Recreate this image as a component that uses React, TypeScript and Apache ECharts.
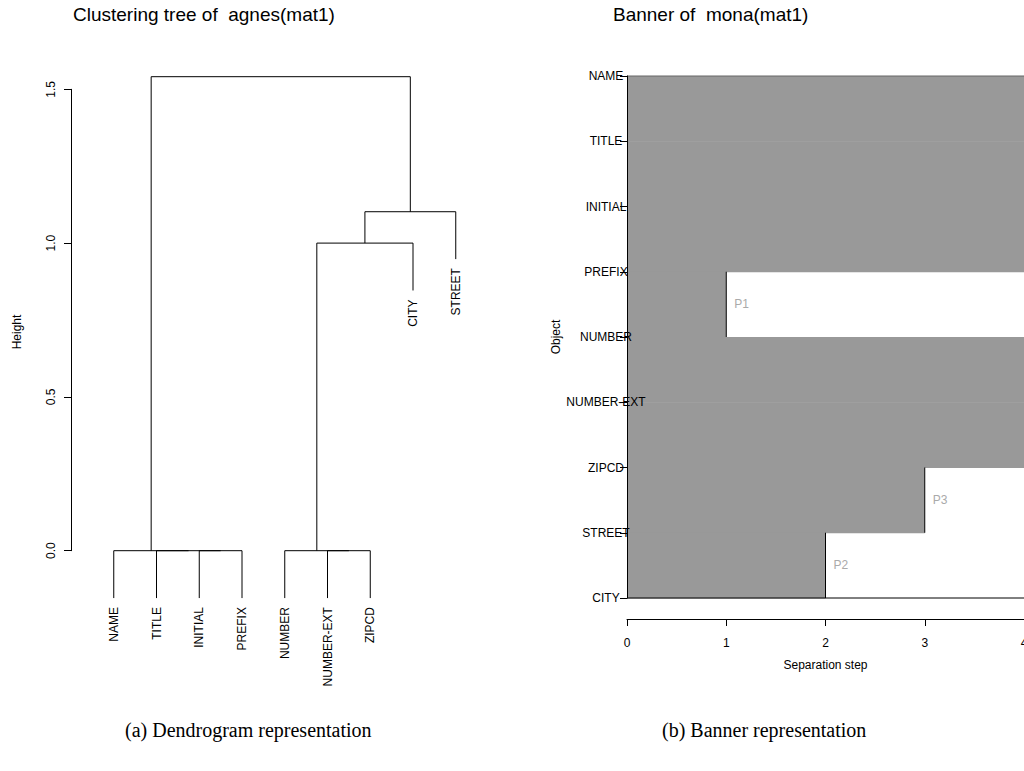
import React, { useEffect, useRef } from "react";
import * as echarts from "echarts";

// ---------- Dendrogram data (agnes) ----------
const leafLabels = ["NAME", "TITLE", "INITIAL", "PREFIX", "NUMBER", "NUMBER-EXT", "ZIPCD", "CITY", "STREET"];
// merge table (R style): negative = leaf (1-based in leafLabels), positive = earlier merge (1-based)
const mergeA = [-3, -2, -1, -6, -5, 5, 6, 3];
const mergeB = [-4, 1, 2, -7, 4, -8, -9, 7];
const mergeHeight = [0, 0, 0, 0, 0, 1.0, 1.102, 1.541];
const leafHang = 0.154;
const heightTicks = ["0.0", "0.5", "1.0", "1.5"];

// ---------- Banner data (mona) ----------
const bannerObjects = ["NAME", "TITLE", "INITIAL", "PREFIX", "NUMBER", "NUMBER-EXT", "ZIPCD", "STREET", "CITY"];
const separationStep = [4, 4, 4, 1, 4, 4, 3, 2];
const separationVar = ["", "", "", "P1", "", "", "P3", "P2"];
const stepTicks = ["0", "1", "2", "3", "4"];

const SANS = "'Liberation Sans', Arial, Helvetica, sans-serif";
const SERIF = "'Liberation Serif', 'Times New Roman', serif";

function buildDendrogram() {
  const nodeX: number[] = [];
  const nodeH: number[] = [];
  const segs: { coords: number[][] }[] = [];
  const leafBottom: number[] = new Array(leafLabels.length).fill(0);
  const childInfo = (c: number, parentH: number) => {
    if (c < 0) {
      const li = -c - 1;
      leafBottom[li] = parentH - leafHang;
      return [li + 1, parentH - leafHang];
    }
    return [nodeX[c - 1], nodeH[c - 1]];
  };
  for (let k = 0; k < mergeA.length; k++) {
    const H = mergeHeight[k];
    const [xa, ha] = childInfo(mergeA[k], H);
    const [xb, hb] = childInfo(mergeB[k], H);
    nodeX.push((xa + xb) / 2);
    nodeH.push(H);
    segs.push({ coords: [[xa, ha], [xa, H], [xb, H], [xb, hb]] });
  }
  const leaves = leafLabels.map((name, i) => [i + 1, leafBottom[i], i]);
  return { segs, leaves };
}

export default function App() {
  const ref = useRef<HTMLDivElement>(null);
  useEffect(() => {
    if (!ref.current) return;
    const chart = echarts.init(ref.current, undefined, { renderer: "svg" });
    const { segs, leaves } = buildDendrogram();
    const maxStep = stepTicks.length - 1;

    const bannerData = separationStep.map((s, i) => [i, s]);

    const option: any = {
      animation: false,
      backgroundColor: "#ffffff",
      title: [
        {
          text: "Clustering tree of  agnes(mat1)",
          left: 68,
          top: 0,
          textStyle: { fontFamily: SANS, fontSize: 19, fontWeight: "normal", color: "#000" },
        },
        {
          text: "Banner of  mona(mat1)",
          left: 608,
          top: 0,
          textStyle: { fontFamily: SANS, fontSize: 19, fontWeight: "normal", color: "#000" },
        },
      ],
      grid: [
        { left: 71, top: 89.3, width: 427.5, height: 461.4, outerBoundsMode: "none", containLabel: false },
        { left: 627, top: 76, width: 397, height: 522, outerBoundsMode: "none", containLabel: false },
      ],
      xAxis: [
        { gridIndex: 0, type: "value", min: 0, max: 10, show: false },
        {
          gridIndex: 1,
          type: "value",
          min: 0,
          max: maxStep,
          interval: 1,
          offset: 21,
          name: "Separation step",
          nameLocation: "middle",
          nameGap: 40,
          nameTextStyle: { fontFamily: SANS, fontSize: 12, color: "#000" },
          axisLine: { show: true, onZero: false, lineStyle: { color: "#000", width: 1 } },
          axisTick: { show: true, length: 7, lineStyle: { color: "#000" } },
          axisLabel: {
            show: true,
            margin: 18,
            fontFamily: SANS,
            fontSize: 12,
            color: "#000",
            showMaxLabel: true,
            showMinLabel: true,
            hideOverlap: false,
            formatter: (v: number) => stepTicks[Math.round(v)] ?? "",
          },
          splitLine: { show: false },
        },
      ],
      yAxis: [
        {
          gridIndex: 0,
          type: "value",
          min: 0,
          max: 1.5,
          interval: 0.5,
          name: "Height",
          nameLocation: "middle",
          nameGap: 48,
          nameRotate: 90,
          nameTextStyle: { fontFamily: SANS, fontSize: 12, color: "#000", padding: [0, 24, 0, 0] },
          axisLine: { show: true, onZero: false, lineStyle: { color: "#000", width: 1 } },
          axisTick: { show: true, length: 7, lineStyle: { color: "#000" } },
          axisLabel: {
            show: true,
            rotate: 90,
            margin: 14,
            fontFamily: SANS,
            fontSize: 12,
            color: "#000",
            formatter: (v: number) => heightTicks[Math.round(v / 0.5)] ?? "",
          },
          splitLine: { show: false },
        },
        {
          gridIndex: 1,
          type: "value",
          min: 0,
          max: bannerObjects.length - 1,
          interval: 1,
          inverse: true,
          name: "Object",
          nameLocation: "middle",
          nameGap: 46,
          nameRotate: 90,
          nameTextStyle: { fontFamily: SANS, fontSize: 12, color: "#000" },
          axisLine: { show: true, onZero: false, lineStyle: { color: "#000", width: 1 } },
          axisTick: { show: true, length: 7, lineStyle: { color: "#000" } },
          axisLabel: {
            show: true,
            margin: 21,
            align: "center",
            fontFamily: SANS,
            fontSize: 12,
            color: "#000",
            formatter: (v: number) => bannerObjects[Math.round(v)] ?? "",
          },
          splitLine: { show: false },
          z: 10,
        },
      ],
      series: [
        {
          type: "lines",
          coordinateSystem: "cartesian2d",
          xAxisIndex: 0,
          yAxisIndex: 0,
          polyline: true,
          clip: false,
          silent: true,
          lineStyle: { color: "#000", width: 1, opacity: 1 },
          data: segs,
        },
        {
          type: "custom",
          xAxisIndex: 0,
          yAxisIndex: 0,
          clip: false,
          silent: true,
          data: leaves,
          renderItem: (params: any, api: any) => {
            const p = api.coord([api.value(0), api.value(1)]);
            const idx = api.value(2);
            return {
              type: "text",
              x: p[0],
              y: p[1] + 9,
              rotation: Math.PI / 2,
              style: {
                text: leafLabels[idx],
                fill: "#000",
                font: `12px ${SANS}`,
                textAlign: "right",
                textVerticalAlign: "middle",
              },
            };
          },
        },
        {
          type: "custom",
          xAxisIndex: 1,
          yAxisIndex: 1,
          clip: false,
          silent: true,
          data: bannerData,
          renderItem: (params: any, api: any) => {
            const i = api.value(0);
            const w = api.value(1);
            const lab = separationVar[i];
            const p0 = api.coord([0, i]);
            const p1 = api.coord([w, i + 1]);
            const pMax = api.coord([maxStep, i + 1]);
            const children: any[] = [
              {
                type: "rect",
                shape: { x: p0[0], y: p0[1], width: p1[0] - p0[0], height: p1[1] - p0[1] + 0.5 },
                style: { fill: "#999999" },
              },
            ];
            if (w < maxStep) {
              children.push({
                type: "line",
                shape: { x1: p1[0], y1: p0[1], x2: p1[0], y2: p1[1] },
                style: { stroke: "#000", lineWidth: 1 },
              });
              const pm = api.coord([w, i + 0.5]);
              children.push({
                type: "text",
                x: pm[0] + 8,
                y: pm[1],
                style: {
                  text: lab,
                  fill: "#aaaaaa",
                  font: `12px ${SANS}`,
                  textAlign: "left",
                  textVerticalAlign: "middle",
                },
              });
            }
            if (i === 0) {
              children.push({
                type: "line",
                shape: { x1: p0[0], y1: p0[1], x2: pMax[0], y2: p0[1] },
                style: { stroke: "#666", lineWidth: 1 },
              });
            }
            if (i === separationStep.length - 1) {
              children.push({
                type: "line",
                shape: { x1: p0[0], y1: p1[1], x2: pMax[0], y2: p1[1] },
                style: { stroke: "#000", lineWidth: 1 },
              });
            }
            return { type: "group", children };
          },
        },
      ],
      graphic: [
        {
          type: "text",
          left: 125,
          top: 720,
          style: { text: "(a) Dendrogram representation", font: `20px ${SERIF}`, fill: "#000" },
        },
        {
          type: "text",
          left: 662,
          top: 720,
          style: { text: "(b) Banner representation", font: `20px ${SERIF}`, fill: "#000" },
        },
      ],
    };
    chart.setOption(option);
    return () => chart.dispose();
  }, []);
  return (
    <div
      ref={ref}
      style={{ position: "absolute", left: 0, top: 0, width: 1024, height: 771, background: "#fff" }}
    />
  );
}
